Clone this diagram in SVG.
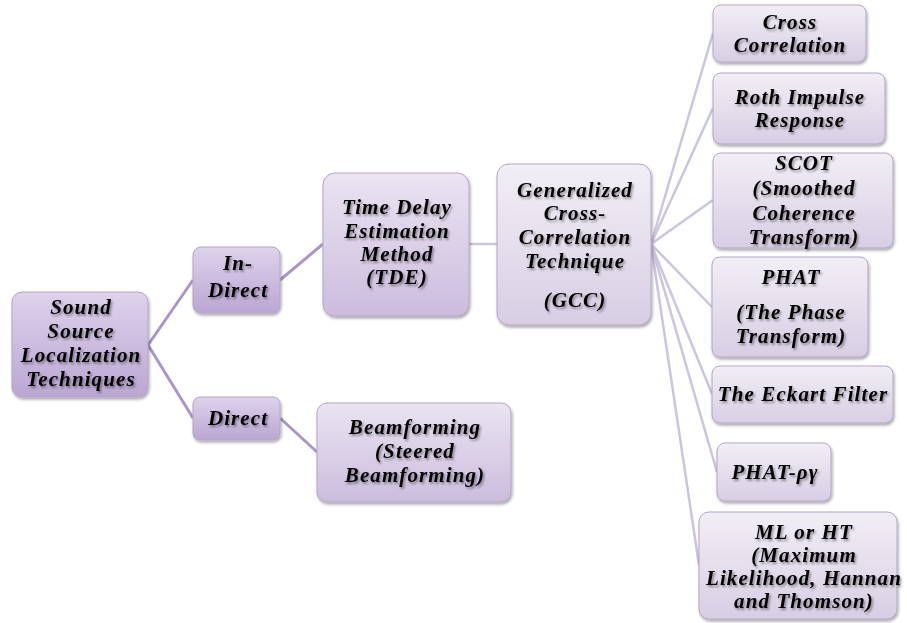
<svg xmlns="http://www.w3.org/2000/svg" width="907" height="623" viewBox="0 0 907 623">
<defs>
<linearGradient id="gDark" x1="0" y1="0" x2="0" y2="1">
<stop offset="0" stop-color="#ded2ec"/><stop offset="1" stop-color="#bba6d3"/>
</linearGradient>
<linearGradient id="gMid" x1="0" y1="0" x2="0" y2="1">
<stop offset="0" stop-color="#ebe4f2"/><stop offset="1" stop-color="#cbbcdd"/>
</linearGradient>
<linearGradient id="gLight" x1="0" y1="0" x2="0" y2="1">
<stop offset="0" stop-color="#f2eef5"/><stop offset="1" stop-color="#d8cee4"/>
</linearGradient>
<filter id="sh" x="-10%" y="-10%" width="130%" height="130%">
<feDropShadow dx="1" dy="2" stdDeviation="1.5" flood-color="#000" flood-opacity="0.35"/>
</filter>
<filter id="tsh" x="-10%" y="-10%" width="130%" height="130%">
<feDropShadow dx="1.5" dy="2" stdDeviation="1.2" flood-color="#000" flood-opacity="0.4"/>
</filter>
</defs>
<style>
.box{stroke:#b3a6c4;stroke-width:1;filter:url(#sh)}
.d{fill:url(#gDark)}
.m{fill:url(#gMid)}
.l{fill:url(#gLight)}
text{font-family:"Liberation Serif","Times New Roman",serif;font-weight:bold;font-style:italic;font-size:21px;letter-spacing:1.1px;fill:#000;text-anchor:middle;filter:url(#tsh)}
.c1{stroke:#a996c6;stroke-width:3;fill:none}
.c2{stroke:#cdc4de;stroke-width:2.5;fill:none}
</style>
<g id="connectors">
<line class="c1" x1="148" y1="345" x2="193" y2="280"/>
<line class="c1" x1="148" y1="345" x2="193" y2="418"/>
<line class="c1" x1="280" y1="280" x2="323" y2="244"/>
<line class="c1" x1="280" y1="418" x2="317" y2="452"/>
<line class="c2" x1="469" y1="244" x2="497" y2="244"/>
<line class="c2" x1="651" y1="244" x2="713" y2="33"/>
<line class="c2" x1="651" y1="244" x2="713" y2="108"/>
<line class="c2" x1="651" y1="244" x2="713" y2="200"/>
<line class="c2" x1="651" y1="244" x2="712" y2="307"/>
<line class="c2" x1="651" y1="244" x2="712" y2="394"/>
<line class="c2" x1="651" y1="244" x2="717" y2="472"/>
<line class="c2" x1="651" y1="244" x2="699" y2="565"/>
</g>
<g id="root">
<rect class="box d" x="12" y="292" width="136" height="105" rx="10"/>
<text x="81" y="314">Sound</text>
<text x="81" y="338">Source</text>
<text x="81" y="362">Localization</text>
<text x="81" y="386">Techniques</text>
</g>
<g id="indirect">
<rect class="box d" x="193" y="247" width="87" height="66" rx="8"/>
<text x="238" y="270">In-</text>
<text x="238" y="297">Direct</text>
</g>
<g id="direct">
<rect class="box d" x="193" y="397" width="87" height="43" rx="7"/>
<text x="238" y="425">Direct</text>
</g>
<g id="tde">
<rect class="box m" x="323" y="173" width="146" height="143" rx="12"/>
<text x="397" y="214">Time Delay</text>
<text x="397" y="238">Estimation</text>
<text x="397" y="261">Method</text>
<text x="397" y="284">(TDE)</text>
</g>
<g id="beamforming">
<rect class="box m" x="317" y="403" width="194" height="99" rx="10"/>
<text x="415" y="434">Beamforming</text>
<text x="415" y="458">(Steered</text>
<text x="415" y="482">Beamforming)</text>
</g>
<g id="gcc">
<rect class="box l" x="497" y="164" width="154" height="161" rx="12"/>
<text x="575" y="197">Generalized</text>
<text x="575" y="220">Cross-</text>
<text x="575" y="244">Correlation</text>
<text x="575" y="268">Technique</text>
<text x="575" y="307">(GCC)</text>
</g>
<g id="cross">
<rect class="box l" x="713" y="5" width="153" height="57" rx="8"/>
<text x="790" y="29">Cross</text>
<text x="790" y="52">Correlation</text>
</g>
<g id="roth">
<rect class="box l" x="713" y="73" width="172" height="71" rx="8"/>
<text x="800" y="104">Roth Impulse</text>
<text x="800" y="127">Response</text>
</g>
<g id="scot">
<rect class="box l" x="713" y="153" width="180" height="95" rx="8"/>
<text x="804" y="170">SCOT</text>
<text x="804" y="195">(Smoothed</text>
<text x="804" y="220">Coherence</text>
<text x="804" y="244">Transform)</text>
</g>
<g id="phat">
<rect class="box l" x="712" y="257" width="156" height="100" rx="8"/>
<text x="791" y="284">PHAT</text>
<text x="791" y="319">(The Phase</text>
<text x="791" y="343">Transform)</text>
</g>
<g id="eckart">
<rect class="box l" x="712" y="366" width="181" height="57" rx="8"/>
<text x="803" y="401">The Eckart Filter</text>
</g>
<g id="phatrg">
<rect class="box l" x="717" y="443" width="114" height="58" rx="8"/>
<text x="775" y="479">PHAT-ργ</text>
</g>
<g id="ml">
<rect class="box l" x="699" y="512" width="198" height="107" rx="10"/>
<text x="804" y="539">ML or HT</text>
<text x="804" y="562">(Maximum</text>
<text x="804" y="585">Likelihood, Hannan</text>
<text x="804" y="608">and Thomson)</text>
</g>
</svg>
